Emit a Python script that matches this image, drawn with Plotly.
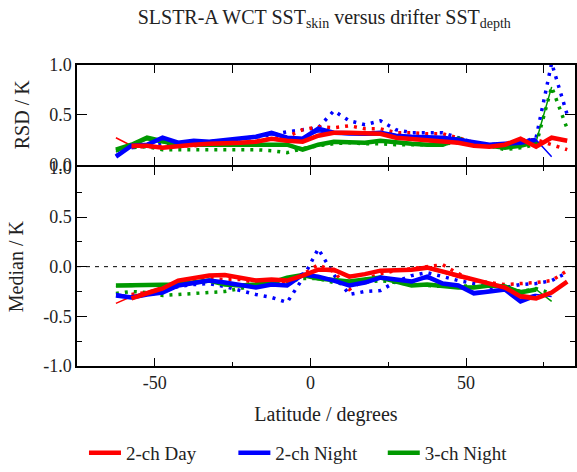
import plotly.graph_objects as go

lat = [-62.5, -57.5, -52.5, -47.5, -42.5, -37.5, -32.5, -27.5, -22.5, -17.5,
       -12.5, -7.5, -2.5, 2.5, 7.5, 12.5, 17.5, 22.5, 27.5, 32.5,
       37.5, 42.5, 47.5, 52.5, 57.5, 62.5, 67.5, 72.5, 77.5, 82.5]

# RSD / K
rsd_day_thick = [None, 0.19, 0.19, 0.17, 0.19, 0.20, 0.21, 0.21, 0.22, 0.23, 0.26, 0.24, 0.23, 0.29, 0.32,
                 0.32, 0.31, 0.31, 0.27, 0.26, 0.25, 0.24, 0.22, 0.19, 0.18, 0.20, 0.26, 0.18, 0.27, 0.24]
rsd_day_thin = [0.27, 0.19, 0.18, 0.18, 0.20, 0.21, 0.21, 0.22, 0.23, 0.24, 0.25, 0.23, 0.24, 0.30, 0.33,
                0.31, 0.30, 0.30, 0.28, 0.27, 0.25, 0.23, 0.21, 0.19, 0.19, 0.21, 0.24, 0.22, None, None]
rsd_day_dot = [None, 0.18, 0.18, 0.18, 0.19, 0.19, 0.20, 0.21, 0.22, 0.24, 0.26, 0.28, 0.35, 0.38, 0.37,
               0.39, 0.36, 0.36, 0.32, 0.32, 0.31, 0.31, 0.27, 0.22, 0.18, 0.20, 0.25, 0.25, 0.20, 0.15]
rsd_n2_thick = [0.08, 0.19, 0.20, 0.27, 0.22, 0.24, 0.23, 0.25, 0.27, 0.28, 0.32, 0.27, 0.26, 0.36, 0.32,
                0.31, 0.31, 0.32, 0.29, 0.28, 0.28, 0.27, 0.25, 0.22, 0.20, 0.21, 0.22, 0.25, None, None]
rsd_n2_thin = [0.10, 0.18, 0.21, 0.25, 0.23, 0.23, 0.24, 0.25, 0.26, 0.28, 0.30, 0.28, 0.27, 0.33, 0.31,
               0.30, 0.30, 0.30, 0.28, 0.28, 0.27, 0.26, 0.24, 0.22, 0.20, 0.21, 0.23, 0.25, 0.08, None]
rsd_n2_dot = [None, 0.17, 0.19, 0.22, 0.20, 0.22, 0.23, 0.24, 0.26, 0.28, 0.30, 0.33, 0.35, 0.37, 0.54,
              0.44, 0.40, 0.44, 0.35, 0.32, 0.32, 0.32, 0.27, 0.22, 0.20, 0.21, 0.22, 0.27, 1.02, 0.50]
rsd_n3_thick = [0.15, 0.20, 0.27, 0.23, 0.20, 0.20, 0.20, 0.20, 0.20, 0.20, 0.20, 0.20, 0.15, 0.20, 0.23,
                0.23, 0.22, 0.24, 0.22, 0.21, 0.20, 0.20, 0.26, 0.20, 0.19, 0.17, 0.19, 0.23, None, None]
rsd_n3_thin = [0.13, 0.19, 0.25, 0.22, 0.20, 0.19, 0.20, 0.20, 0.20, 0.21, 0.21, 0.19, 0.17, 0.20, 0.22,
               0.22, 0.22, 0.23, 0.22, 0.21, 0.20, 0.21, 0.24, 0.20, 0.19, 0.18, 0.19, 0.23, 0.78, None]
rsd_n3_dot = [0.14, 0.17, 0.18, 0.15, 0.15, 0.15, 0.15, 0.15, 0.15, 0.15, 0.14, 0.12, 0.16, 0.19, 0.21,
              0.22, 0.21, 0.21, 0.20, 0.20, 0.20, 0.21, 0.22, 0.20, 0.19, 0.15, 0.17, 0.20, 0.78, 0.36]

# Median / K
med_day_thick = [None, -0.32, -0.27, -0.22, -0.14, -0.11, -0.09, -0.085, -0.11, -0.14, -0.13, -0.14, -0.09, -0.03, -0.03,
                 -0.10, -0.075, -0.04, -0.035, -0.03, -0.01, -0.05, -0.10, -0.14, -0.17, -0.21, -0.30, -0.32, -0.26, -0.15]
med_day_thin = [-0.37, -0.30, -0.25, -0.20, -0.15, -0.12, -0.10, -0.09, -0.11, -0.13, -0.13, -0.13, -0.08, -0.04, -0.05,
                -0.09, -0.08, -0.05, -0.04, -0.03, -0.02, -0.06, -0.11, -0.14, -0.17, -0.22, -0.28, -0.30, None, None]
med_day_dot = [None, -0.28, -0.26, -0.22, -0.17, -0.13, -0.12, -0.13, -0.13, -0.16, -0.18, -0.16, -0.08, 0.02, -0.05,
               -0.23, -0.13, -0.07, -0.04, -0.02, 0.00, 0.02, -0.07, -0.14, -0.16, -0.18, -0.17, -0.16, -0.14, -0.04]
med_n2_thick = [-0.29, -0.31, -0.28, -0.26, -0.19, -0.16, -0.14, -0.16, -0.19, -0.21, -0.18, -0.19, -0.08, -0.10, -0.14,
                -0.19, -0.16, -0.11, -0.13, -0.15, -0.10, -0.17, -0.19, -0.27, -0.25, -0.23, -0.35, -0.29, None, None]
med_n2_thin = [-0.27, -0.30, -0.27, -0.25, -0.20, -0.17, -0.15, -0.16, -0.18, -0.20, -0.19, -0.18, -0.10, -0.11, -0.13,
               -0.17, -0.16, -0.12, -0.13, -0.14, -0.12, -0.16, -0.19, -0.25, -0.24, -0.24, -0.31, -0.28, -0.30, None]
med_n2_dot = [None, -0.30, -0.28, -0.25, -0.20, -0.18, -0.17, -0.20, -0.24, -0.28, -0.31, -0.36, -0.12, 0.18, -0.08,
              -0.28, -0.25, -0.24, -0.15, -0.09, -0.06, -0.10, -0.14, -0.17, -0.21, -0.21, -0.18, -0.17, -0.14, -0.06]
med_n3_thick = [-0.19, -0.19, -0.18, -0.19, -0.18, -0.16, -0.14, -0.18, -0.19, -0.18, -0.16, -0.11, -0.085, -0.12, -0.14,
                -0.15, -0.13, -0.11, -0.15, -0.19, -0.18, -0.20, -0.21, -0.21, -0.19, -0.20, -0.26, -0.23, None, None]
med_n3_thin = [-0.20, -0.20, -0.19, -0.19, -0.17, -0.16, -0.15, -0.17, -0.18, -0.18, -0.16, -0.12, -0.10, -0.12, -0.14,
               -0.15, -0.13, -0.12, -0.15, -0.18, -0.18, -0.19, -0.20, -0.20, -0.19, -0.21, -0.24, -0.23, -0.35, None]
med_n3_dot = [-0.27, -0.25, -0.26, -0.29, -0.28, -0.27, -0.26, -0.25, -0.22, -0.19, -0.17, -0.15, -0.12, -0.12, -0.16,
              -0.18, -0.16, -0.14, -0.16, -0.18, -0.19, -0.20, -0.19, -0.20, -0.19, -0.21, -0.25, -0.22, -0.27, None]

names = ["2-ch Day", "2-ch Night", "3-ch Night"]
colors = ["#ff0000", "#0000ff", "#009900"]
legend_ids = ["legend", "legend2", "legend3"]

rsd = {
    "2-ch Day": (rsd_day_thick, rsd_day_thin, rsd_day_dot),
    "2-ch Night": (rsd_n2_thick, rsd_n2_thin, rsd_n2_dot),
    "3-ch Night": (rsd_n3_thick, rsd_n3_thin, rsd_n3_dot),
}
med = {
    "2-ch Day": (med_day_thick, med_day_thin, med_day_dot),
    "2-ch Night": (med_n2_thick, med_n2_thin, med_n2_dot),
    "3-ch Night": (med_n3_thick, med_n3_thin, med_n3_dot),
}

FONT = "Liberation Serif"
TXT = "#222222"
fig = go.Figure()

order = ["3-ch Night", "2-ch Night", "2-ch Day"]
for style in ["dot", "thin", "thick"]:
    for nm in order:
        i = names.index(nm)
        c = colors[i]
        for data, ya in ((rsd, "y"), (med, "y2")):
            thick, thin, dot = data[nm]
            if style == "thick":
                ys, line = thick, dict(color=c, width=4.5)
            elif style == "thin":
                ys, line = thin, dict(color=c, width=1.5)
            else:
                ys, line = dot, dict(color=c, width=3.5, dash="3px,6px")
            fig.add_trace(go.Scatter(
                x=lat, y=ys, mode="lines", line=line, yaxis=ya,
                name=nm, legend=legend_ids[i],
                showlegend=(style == "thick" and ya == "y"),
                connectgaps=False, hoverinfo="skip"))

axis_common = dict(showline=True, linecolor="black", linewidth=1.5, mirror="allticks",
                   ticks="inside", tickcolor="black", showgrid=False, zeroline=False,
                   tickfont=dict(family=FONT, size=18, color=TXT))

leg_common = dict(orientation="h", xanchor="left", y=-0.29, yanchor="middle",
                  font=dict(family=FONT, size=19, color=TXT), itemwidth=32,
                  bgcolor="rgba(0,0,0,0)")

fig.update_layout(
    width=577, height=472,
    margin=dict(l=77, r=0, t=65, b=98),
    paper_bgcolor="white", plot_bgcolor="white",
    font=dict(family=FONT, color=TXT),
    title=dict(text="SLSTR-A WCT SST<sub>skin</sub> versus drifter SST<sub>depth</sub>",
               x=0.562, xanchor="center", y=0.965, yanchor="middle",
               font=dict(family=FONT, size=20, color=TXT)),
    xaxis=dict(range=[-75, 85], tickvals=[-50, 0, 50], ticktext=["-50", "0", "50"], ticklen=8,
               minor=dict(tickvals=[-25, 25, 75], ticklen=4, ticks="inside", tickcolor="black"),
               title=dict(text="Latitude / degrees", font=dict(family=FONT, size=20, color=TXT), standoff=15),
               anchor="y2", **axis_common),
    xaxis2=dict(range=[-75, 85], matches="x", overlaying="x", anchor="y", showticklabels=False,
                tickvals=[-50, 0, 50], ticklen=8,
                minor=dict(tickvals=[-25, 25, 75], ticklen=4, ticks="inside", tickcolor="black"),
                **axis_common),
    yaxis=dict(domain=[0.669, 1.0], range=[0, 1.0], tickvals=[0, 0.5, 1.0], ticktext=["0.0", "0.5", "1.0"],
               ticklen=10, anchor="x",
               title=dict(text="RSD / K", font=dict(family=FONT, size=20, color=TXT), standoff=14),
               **axis_common),
    yaxis2=dict(domain=[0.0, 0.660], range=[-1.0, 1.0], tickvals=[-1.0, -0.5, 0, 0.5, 1.0],
                ticktext=["-1.0", "-0.5", "0.0", "0.5", "1.0"], ticklen=10, anchor="x",
                minor=dict(tickvals=[-0.75, -0.25, 0.25, 0.75], ticklen=5, ticks="inside", tickcolor="black"),
                title=dict(text="Median / K", font=dict(family=FONT, size=20, color=TXT), standoff=14),
                **axis_common),
    legend=dict(x=0.014, **leg_common),
    legend2=dict(x=0.314, **leg_common),
    legend3=dict(x=0.614, **leg_common),
    showlegend=True,
)

fig.add_shape(type="line", xref="x", yref="y2", x0=-75, x1=85, y0=0, y1=0,
              line=dict(color="black", width=1, dash="4px,5px"), layer="below")

fig.write_html("out.html")
